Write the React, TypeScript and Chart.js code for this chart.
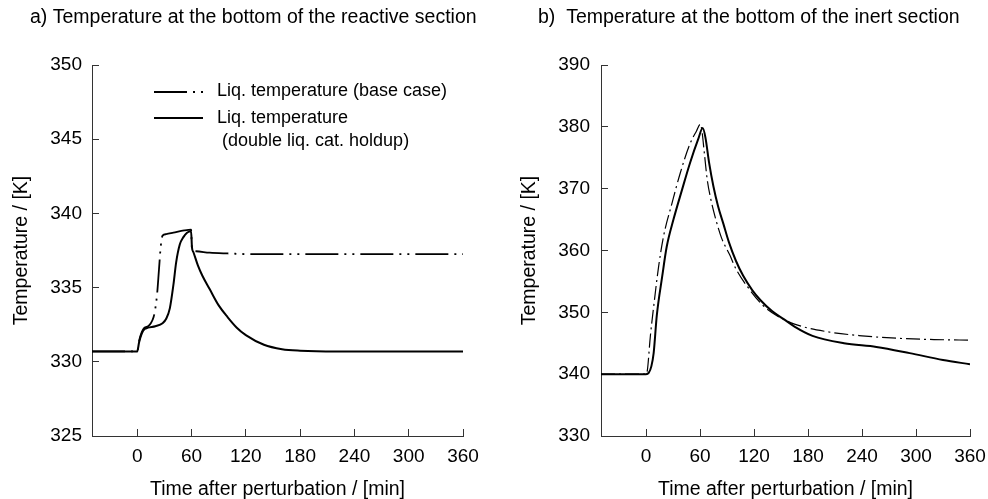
import React, { useEffect, useRef } from "react";
import { Chart, registerables } from "chart.js";

Chart.register(...registerables);

const FONT = '"Liberation Sans", Arial, Helvetica, sans-serif';

// ---------- tick labels / texts ----------
const xTickValues = [0, 60, 120, 180, 240, 300, 360];
const yTicksA = [325, 330, 335, 340, 345, 350];
const yTicksB = [330, 340, 350, 360, 370, 380, 390];

const titleA = "a) Temperature at the bottom of the reactive section";
const titleB = "b)  Temperature at the bottom of the inert section";
const xAxisTitle = "Time after perturbation / [min]";
const yAxisTitle = "Temperature / [K]";
const seriesLabels = ["Liq. temperature (base case)", "Liq. temperature (double liq. cat. holdup)"];
const legendLines = ["Liq. temperature (base case)", "Liq. temperature", " (double liq. cat. holdup)"];

// ---------- data: panel a (reactive section) ----------
const timeABase = [-50, 0, 2, 5, 8, 12, 15, 18, 20, 22, 24, 26, 28, 32, 40, 52, 59.5, 60.5, 65, 80, 100, 130, 180, 240, 300, 360];
const tempABase = [330.7, 330.7, 331.4, 332.0, 332.3, 332.4, 332.6, 333.0, 333.6, 334.6, 336.2, 337.8, 338.5, 338.6, 338.7, 338.85, 338.9, 337.6, 337.45, 337.35, 337.3, 337.25, 337.25, 337.25, 337.25, 337.25];

const timeADbl = [-50, 0, 2, 5, 8, 12, 20, 28, 32, 36, 40, 43, 47, 51, 55, 59.5, 60.5, 62, 67, 72, 80, 90, 100, 110, 120, 140, 160, 180, 220, 280, 360];
const tempADbl = [330.7, 330.7, 331.3, 331.9, 332.2, 332.3, 332.4, 332.6, 332.9, 333.6, 335.2, 336.7, 337.9, 338.4, 338.7, 338.8, 337.7, 337.4, 336.5, 335.8, 334.9, 333.8, 333.0, 332.3, 331.8, 331.15, 330.85, 330.75, 330.7, 330.7, 330.7];

// ---------- data: panel b (inert section) ----------
const timeBBase = [-50, 0, 1.5, 4.8, 8.5, 14, 19.5, 29, 38, 49, 56, 60.3, 62, 65, 68, 72, 78, 84, 93, 100, 115, 130, 145, 165, 200, 240, 280, 320, 360];
const tempBBase = [340, 340, 340.6, 346.1, 350.9, 357.4, 362.3, 367.7, 372.5, 377.3, 379.3, 380.4, 379.5, 375.5, 371.5, 368.3, 364.8, 362.0, 359.3, 357.0, 353.7, 351.1, 349.5, 348.1, 346.9, 346.2, 345.8, 345.6, 345.5];

const timeBDbl = [-50, 0, 3, 6, 8.5, 12, 18, 23, 30.5, 40, 49, 58, 63, 66, 70, 75, 80, 86, 92, 100, 108, 118, 127, 140, 153, 165, 185, 220, 256, 293, 330, 360];
const tempBDbl = [340, 340, 340.2, 341.3, 343.4, 349.5, 355.8, 360.6, 365.0, 369.8, 374.2, 378.0, 379.8, 378.3, 374.3, 370.3, 367.2, 364.3, 361.4, 358.3, 355.9, 353.6, 352.0, 350.2, 348.9, 347.7, 346.2, 345.0, 344.4, 343.4, 342.3, 341.6];

const zip = (xs: number[], ys: number[]) => xs.map((x, i) => ({ x, y: ys[i] }));

const AXIS_COLOR = "#333";

const panelTitlePlugin = {
  id: "panelTitle",
  afterDraw(chart: any, _args: any, opts: any) {
    if (!opts || !opts.text) return;
    const ctx = chart.ctx;
    ctx.save();
    ctx.font = `${opts.size}px ${FONT}`;
    ctx.fillStyle = "#000";
    ctx.textBaseline = "middle";
    ctx.textAlign = "left";
    ctx.fillText(opts.text, opts.x, opts.y);
    ctx.restore();
  },
};

const lineLegendPlugin = {
  id: "lineLegend",
  afterDraw(chart: any, _args: any, opts: any) {
    if (!opts || !opts.display) return;
    const ctx = chart.ctx;
    ctx.save();
    opts.samples.forEach((s: any) => {
      const ds = chart.data.datasets[s.datasetIndex];
      ctx.beginPath();
      ctx.setLineDash(ds.borderDash || []);
      ctx.lineWidth = ds.borderWidth;
      ctx.strokeStyle = ds.borderColor;
      ctx.moveTo(opts.x1, s.y);
      ctx.lineTo(opts.x2, s.y);
      ctx.stroke();
    });
    ctx.setLineDash([]);
    ctx.font = `${opts.size}px ${FONT}`;
    ctx.fillStyle = "#000";
    ctx.textBaseline = "middle";
    ctx.textAlign = "left";
    opts.lines.forEach((l: any) => ctx.fillText(l.text, opts.textX, l.y));
    ctx.restore();
  },
};

function makeConfig(p: any) {
  return {
    type: "line",
    data: {
      datasets: [
        {
          label: seriesLabels[0],
          data: zip(p.tBase, p.vBase),
          borderColor: "#000",
          borderWidth: p.dashWidth,
          borderDash: p.dash,
          pointRadius: 0,
          fill: false,
          cubicInterpolationMode: "monotone",
        },
        {
          label: seriesLabels[1],
          data: zip(p.tDbl, p.vDbl),
          borderColor: "#000",
          borderWidth: 2,
          pointRadius: 0,
          fill: false,
          cubicInterpolationMode: "monotone",
        },
      ],
    },
    options: {
      responsive: false,
      animation: false,
      layout: { padding: { top: 65, right: p.padRight, bottom: 0, left: 0 } },
      plugins: {
        legend: { display: false },
        tooltip: { enabled: false },
        panelTitle: { text: p.title, x: p.titleX, y: 18, size: 19.5 },
        lineLegend: p.legend,
      },
      scales: {
        x: {
          type: "linear",
          min: -50,
          max: 360,
          afterBuildTicks: (s: any) => {
            s.ticks = xTickValues.map((v) => ({ value: v }));
          },
          afterFit: (s: any) => {
            s.height = 63;
            s.paddingLeft = 0;
            s.paddingRight = 0;
          },
          ticks: {
            font: { family: FONT, size: 19 },
            color: "#000",
            padding: 16,
            maxRotation: 0,
            autoSkip: false,
          },
          grid: { drawOnChartArea: false, drawTicks: true, tickLength: -7, color: AXIS_COLOR },
          border: { display: true, color: AXIS_COLOR, width: 1 },
          title: {
            display: true,
            text: xAxisTitle,
            color: "#000",
            font: { family: FONT, size: 19.5, lineHeight: 1 },
            padding: { top: 0, bottom: 0 },
          },
        },
        y: {
          type: "linear",
          min: p.yMin,
          max: p.yMax,
          afterBuildTicks: (s: any) => {
            s.ticks = p.yTicks.map((v: number) => ({ value: v }));
          },
          afterFit: (s: any) => {
            s.width = p.yWidth;
          },
          ticks: {
            font: { family: FONT, size: 19 },
            color: "#000",
            padding: p.yPad,
            autoSkip: false,
          },
          grid: { drawOnChartArea: false, drawTicks: true, tickLength: -7, color: AXIS_COLOR },
          border: { display: true, color: AXIS_COLOR, width: 1 },
          title: {
            display: true,
            text: yAxisTitle,
            color: "#000",
            font: { family: FONT, size: 19.5, lineHeight: 1 },
            padding: { top: p.yTitlePad, bottom: 0 },
          },
        },
      },
    },
    plugins: [panelTitlePlugin, lineLegendPlugin],
  };
}

function Panel({ config, left }: { config: any; left: number }) {
  const ref = useRef<HTMLCanvasElement | null>(null);
  useEffect(() => {
    if (!ref.current) return;
    const chart = new Chart(ref.current, config);
    return () => chart.destroy();
  }, []);
  return (
    <canvas
      ref={ref}
      width={494}
      height={499}
      style={{ position: "absolute", left, top: 0, width: 494, height: 499 }}
    />
  );
}

export default function App() {
  const cfgA = makeConfig({
    tBase: timeABase,
    vBase: tempABase,
    tDbl: timeADbl,
    vDbl: tempADbl,
    dash: [33, 6, 2, 6, 2, 6],
    dashWidth: 1.8,
    yMin: 325,
    yMax: 350,
    yTicks: yTicksA,
    yWidth: 92,
    yPad: 17,
    yTitlePad: 11.5,
    padRight: 31,
    title: titleA,
    titleX: 30,
    legend: {
      display: true,
      x1: 154,
      x2: 203,
      textX: 217,
      size: 18,
      samples: [
        { datasetIndex: 0, y: 92 },
        { datasetIndex: 1, y: 118 },
      ],
      lines: [
        { text: legendLines[0], y: 91 },
        { text: legendLines[1], y: 118 },
        { text: legendLines[2], y: 141 },
      ],
    },
  });
  const cfgB = makeConfig({
    tBase: timeBBase,
    vBase: tempBBase,
    tDbl: timeBDbl,
    vDbl: tempBDbl,
    dash: [14, 4, 2, 4],
    dashWidth: 1.2,
    yMin: 330,
    yMax: 390,
    yTicks: yTicksB,
    yWidth: 107,
    yPad: 18,
    yTitlePad: 26,
    padRight: 18,
    title: titleB,
    titleX: 44,
    legend: { display: false },
  });
  return (
    <div style={{ position: "absolute", left: 0, top: 0, width: 988, height: 499, background: "#fff" }}>
      <Panel config={cfgA} left={0} />
      <Panel config={cfgB} left={494} />
    </div>
  );
}
